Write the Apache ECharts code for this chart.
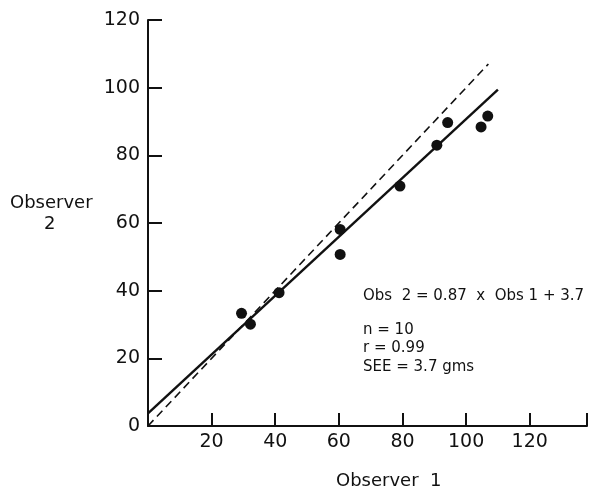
<!DOCTYPE html>
<html lang="en">
<head>
    <meta charset="UTF-8">
    <title>Observer 1 vs Observer 2</title>
    <script src="https://cdn.jsdelivr.net/npm/echarts@6.0.0/dist/echarts.min.js"></script>
    <style>
        html, body { margin: 0; padding: 0; background: #fff; }
    </style>
</head>
<body>
    <div id="main" style="width: 590px; height: 490px;"></div>

    <script>
        var obs1 = [29.4, 32.2, 41.2, 60.4, 60.4, 79.2, 90.8, 94.2, 104.7, 106.8];
        var obs2 = [33.3, 30.1, 39.4, 58.1, 50.7, 70.9, 83.0, 89.7, 88.4, 91.6];

        // regression line (Obs 2 = 0.87 x Obs 1 + 3.7) and line of identity, end points
        var fitLine = [[0, 3.7], [110, 99.4]];
        var identityLine = [[0, 0], [107, 107]];

        var xTicks = [20, 40, 60, 80, 100, 120];
        var yTicks = [0, 20, 40, 60, 80, 100, 120];

        var notes = ['Obs  2 = 0.87  x  Obs 1 + 3.7', 'n = 10', 'r = 0.99', 'SEE = 3.7 gms'];

        var points = obs1.map(function (x, i) { return [x, obs2[i]]; });
        var font = 'DejaVu Sans';
        var ink = '#111';

        var chart = echarts.init(document.getElementById('main'));
        var option = {
            animation: false,
            grid: { left: 148, right: 2, top: 20, bottom: 64 },
            xAxis: {
                type: 'value',
                min: 0,
                max: 138,
                interval: 20,
                splitLine: { show: false },
                axisLine: { lineStyle: { color: ink, width: 2 } },
                axisTick: { inside: true, length: 13, lineStyle: { color: ink, width: 2 } },
                axisLabel: {
                    color: ink, fontFamily: font, fontSize: 19, margin: 7,
                    formatter: function (v) { return xTicks.indexOf(v) >= 0 ? String(v) : ''; }
                }
            },
            yAxis: {
                type: 'value',
                min: 0,
                max: 120,
                interval: 20,
                splitLine: { show: false },
                axisLine: { lineStyle: { color: ink, width: 2 } },
                axisTick: { inside: true, length: 14, lineStyle: { color: ink, width: 2 } },
                axisLabel: {
                    color: ink, fontFamily: font, fontSize: 19, margin: 8,
                    formatter: function (v) { return yTicks.indexOf(v) >= 0 ? String(v) : ''; }
                }
            },
            series: [
                {
                    type: 'line',
                    data: identityLine,
                    symbol: 'none',
                    lineStyle: { color: ink, width: 1.6, type: [8, 5] },
                    z: 2
                },
                {
                    type: 'line',
                    data: fitLine,
                    symbol: 'none',
                    lineStyle: { color: ink, width: 2.4 },
                    z: 3
                },
                {
                    type: 'scatter',
                    data: points,
                    symbol: 'circle',
                    symbolSize: 11,
                    itemStyle: { color: ink, opacity: 1 },
                    z: 4
                }
            ],
            graphic: [
                { type: 'text', left: 10, top: 194, style: { text: 'Observer', font: '18px "DejaVu Sans"', fill: ink } },
                { type: 'text', left: 44, top: 215, style: { text: '2', font: '18px "DejaVu Sans"', fill: ink } },
                { type: 'text', left: 336, top: 472, style: { text: 'Observer  1', font: '18px "DejaVu Sans"', fill: ink } },
                { type: 'text', left: 363, top: 289, style: { text: notes[0], font: '15px "DejaVu Sans"', fill: ink } },
                { type: 'text', left: 363, top: 323, style: { text: notes[1], font: '15px "DejaVu Sans"', fill: ink } },
                { type: 'text', left: 363, top: 341, style: { text: notes[2], font: '15px "DejaVu Sans"', fill: ink } },
                { type: 'text', left: 363, top: 360, style: { text: notes[3], font: '15px "DejaVu Sans"', fill: ink } }
            ]
        };
        chart.setOption(option);
    </script>
</body>
</html>
